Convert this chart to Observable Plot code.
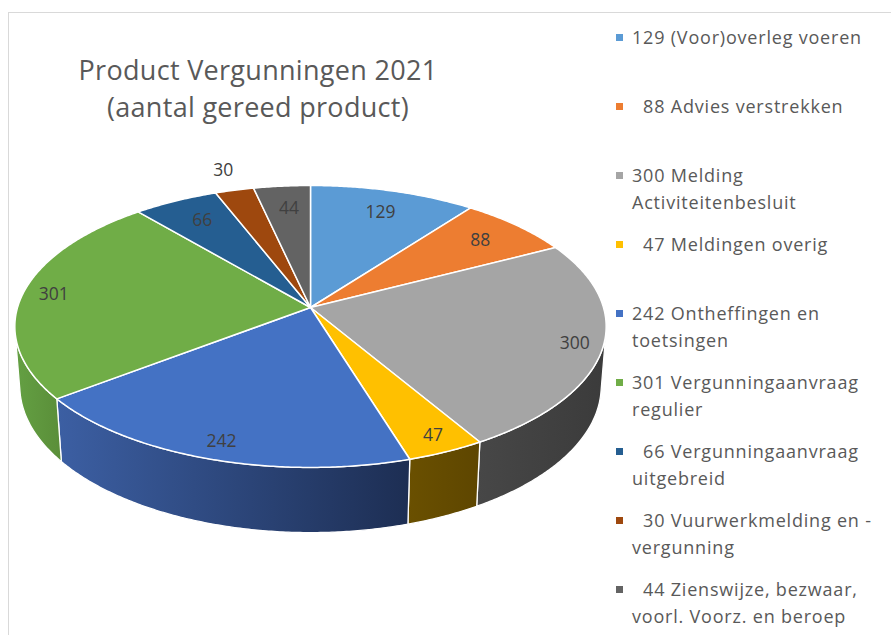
<!DOCTYPE html>
<html><head><meta charset="utf-8">
<script src="https://cdn.jsdelivr.net/npm/d3@7"></script>
<script src="https://cdn.jsdelivr.net/npm/@observablehq/plot@0.6"></script>
<style>
body{margin:0;background:#fff;}
#wrap{position:relative;width:891px;height:635px;overflow:hidden;font-family:"Open Sans",Lato,sans-serif;background:#fff;}
#frame{position:absolute;left:8px;top:12px;width:950px;height:700px;border-top:1.5px solid #d9d9d9;border-left:1.5px solid #d9d9d9;box-sizing:border-box;}
#chart{position:absolute;left:0;top:0;}
#title{position:absolute;left:8px;width:500px;top:51px;text-align:center;color:#595959;font-size:27px;letter-spacing:0.3px;line-height:37px;}
.item{position:absolute;left:632px;color:#595959;font-size:18px;letter-spacing:0.8px;line-height:27px;white-space:pre;}
.sw{position:absolute;width:7px;height:7px;left:616px;}
</style></head>
<body><div id="wrap"><div id="frame"></div><div id="chart"></div><div id="title">Product Vergunningen 2021<br>(aantal gereed product)</div><div id="legend"></div></div>
<script>
// ---- data ----
const categories = ["(Voor)overleg voeren","Advies verstrekken","Melding Activiteitenbesluit","Meldingen overig","Ontheffingen en toetsingen","Vergunningaanvraag regulier","Vergunningaanvraag uitgebreid","Vuurwerkmelding en -vergunning","Zienswijze, bezwaar, voorl. Voorz. en beroep"];
const values = [129, 88, 300, 47, 242, 301, 66, 30, 44];
const legendLines = [
  ["129 (Voor)overleg voeren"],
  ["\u200788 Advies verstrekken"],
  ["300 Melding", "Activiteitenbesluit"],
  ["\u200747 Meldingen overig"],
  ["242 Ontheffingen en", "toetsingen"],
  ["301 Vergunningaanvraag", "regulier"],
  ["\u200766 Vergunningaanvraag", "uitgebreid"],
  ["\u200730 Vuurwerkmelding en -", "vergunning"],
  ["\u200744 Zienswijze, bezwaar,", "voorl. Voorz. en beroep"]
];
const topColors = ["#5B9BD5","#ED7D31","#A5A5A5","#FFC000","#4472C4","#70AD47","#255E91","#9E480E","#636363"];
const wallStops = [["#3f6f9a","#345c80"],["#a9561f","#8c4619"],["#474747","#3b3b3b"],["#6a5000","#5e4600"],["#3c5fa3","#1d2e53"],["#64a043","#5a8e39"],["#1b4369","#163855"],["#702f08","#5c2706"],["#474747","#3b3b3b"]];

// ---- 3D projection of the pie ----
const D = 6.55, s = 0.4725, c = Math.sqrt(1 - s*s), k = 1919, depthH = 0.233;
function proj(thetaDeg, r, Y) {
  const t = thetaDeg * Math.PI / 180;
  const X = r * Math.sin(t), Z = r * Math.cos(t);
  const dep = D + Z * c - Y * s;
  return {x: k * X / dep, y: k * (Y * c + Z * s) / dep};
}
function arc(a0, a1, r, Y) {
  const pts = [];
  const n = Math.max(2, Math.ceil((a1 - a0) / 0.5));
  for (let i = 0; i <= n; i++) pts.push(proj(a0 + (a1 - a0) * i / n, r, Y));
  return pts;
}
const total = d3.sum(values);
let acc = 0;
const slices = values.map((v, i) => {
  const a0 = acc / total * 360; acc += v; const a1 = acc / total * 360;
  return {i, v, a0, a1, mid: (a0 + a1) / 2, frac: v / total};
});
const vis0 = Math.acos(-1 / (D * c)) * 180 / Math.PI, vis1 = 360 - vis0;

const marks = [];
// walls (front-facing part of outer cylinder)
slices.forEach(sl => {
  const b0 = Math.max(sl.a0, vis0), b1 = Math.min(sl.a1, vis1);
  if (b1 <= b0) return;
  const poly = arc(b0, b1, 1, 0).concat(arc(b0, b1, 1, -depthH).reverse());
  marks.push(Plot.line(poly, {x: "x", y: "y", curve: "linear-closed", fill: `url(#wall${sl.i})`, stroke: "white", strokeWidth: 1.3, strokeLinejoin: "round"}));
});
// top faces
slices.forEach(sl => {
  const poly = [proj(0, 0, 0)].concat(arc(sl.a0, sl.a1, 1, 0));
  marks.push(Plot.line(poly, {x: "x", y: "y", curve: "linear-closed", fill: topColors[sl.i], stroke: "white", strokeWidth: 1.5, strokeLinejoin: "round"}));
});
// data labels
const labels = slices.map(sl => {
  const r = sl.frac < 0.03 ? 1.2 : (Math.cos(sl.mid * Math.PI / 180) < 0.2 ? 0.9 : 0.8);
  const p = proj(sl.mid, r, 0);
  return {x: p.x, y: p.y, text: String(sl.v), outside: sl.frac < 0.03};
});
marks.push(Plot.text(labels, {x: "x", y: "y", text: "text", fill: "#404040", fontSize: 17.5, dx: 2}));

const chart = Plot.plot({
  width: 891, height: 635, margin: 0,
  x: {domain: [-310, 581], axis: null},
  y: {domain: [-328, 307], axis: null},
  style: {fontFamily: "'Open Sans', Lato, sans-serif", background: "transparent", overflow: "visible"},
  marks
});
// gradients for the side walls
const defs = d3.select(chart).insert("defs", ":first-child");
wallStops.forEach((st, i) => {
  const g = defs.append("linearGradient").attr("id", `wall${i}`).attr("x1", 0).attr("x2", 1).attr("y1", 0).attr("y2", 0);
  g.append("stop").attr("offset", "0%").attr("stop-color", st[0]);
  g.append("stop").attr("offset", "100%").attr("stop-color", st[1]);
});
document.getElementById("chart").appendChild(chart);

// ---- legend ----
const legend = document.getElementById("legend");
legendLines.forEach((lines, i) => {
  const cy = 37 + 69 * i;
  const sw = document.createElement("div");
  sw.className = "sw"; sw.style.top = (cy - 3.5) + "px"; sw.style.background = topColors[i];
  legend.appendChild(sw);
  const it = document.createElement("div");
  it.className = "item"; it.style.top = (cy - 13.5) + "px";
  it.textContent = lines.join("\n");
  legend.appendChild(it);
});
</script>
</body></html>
